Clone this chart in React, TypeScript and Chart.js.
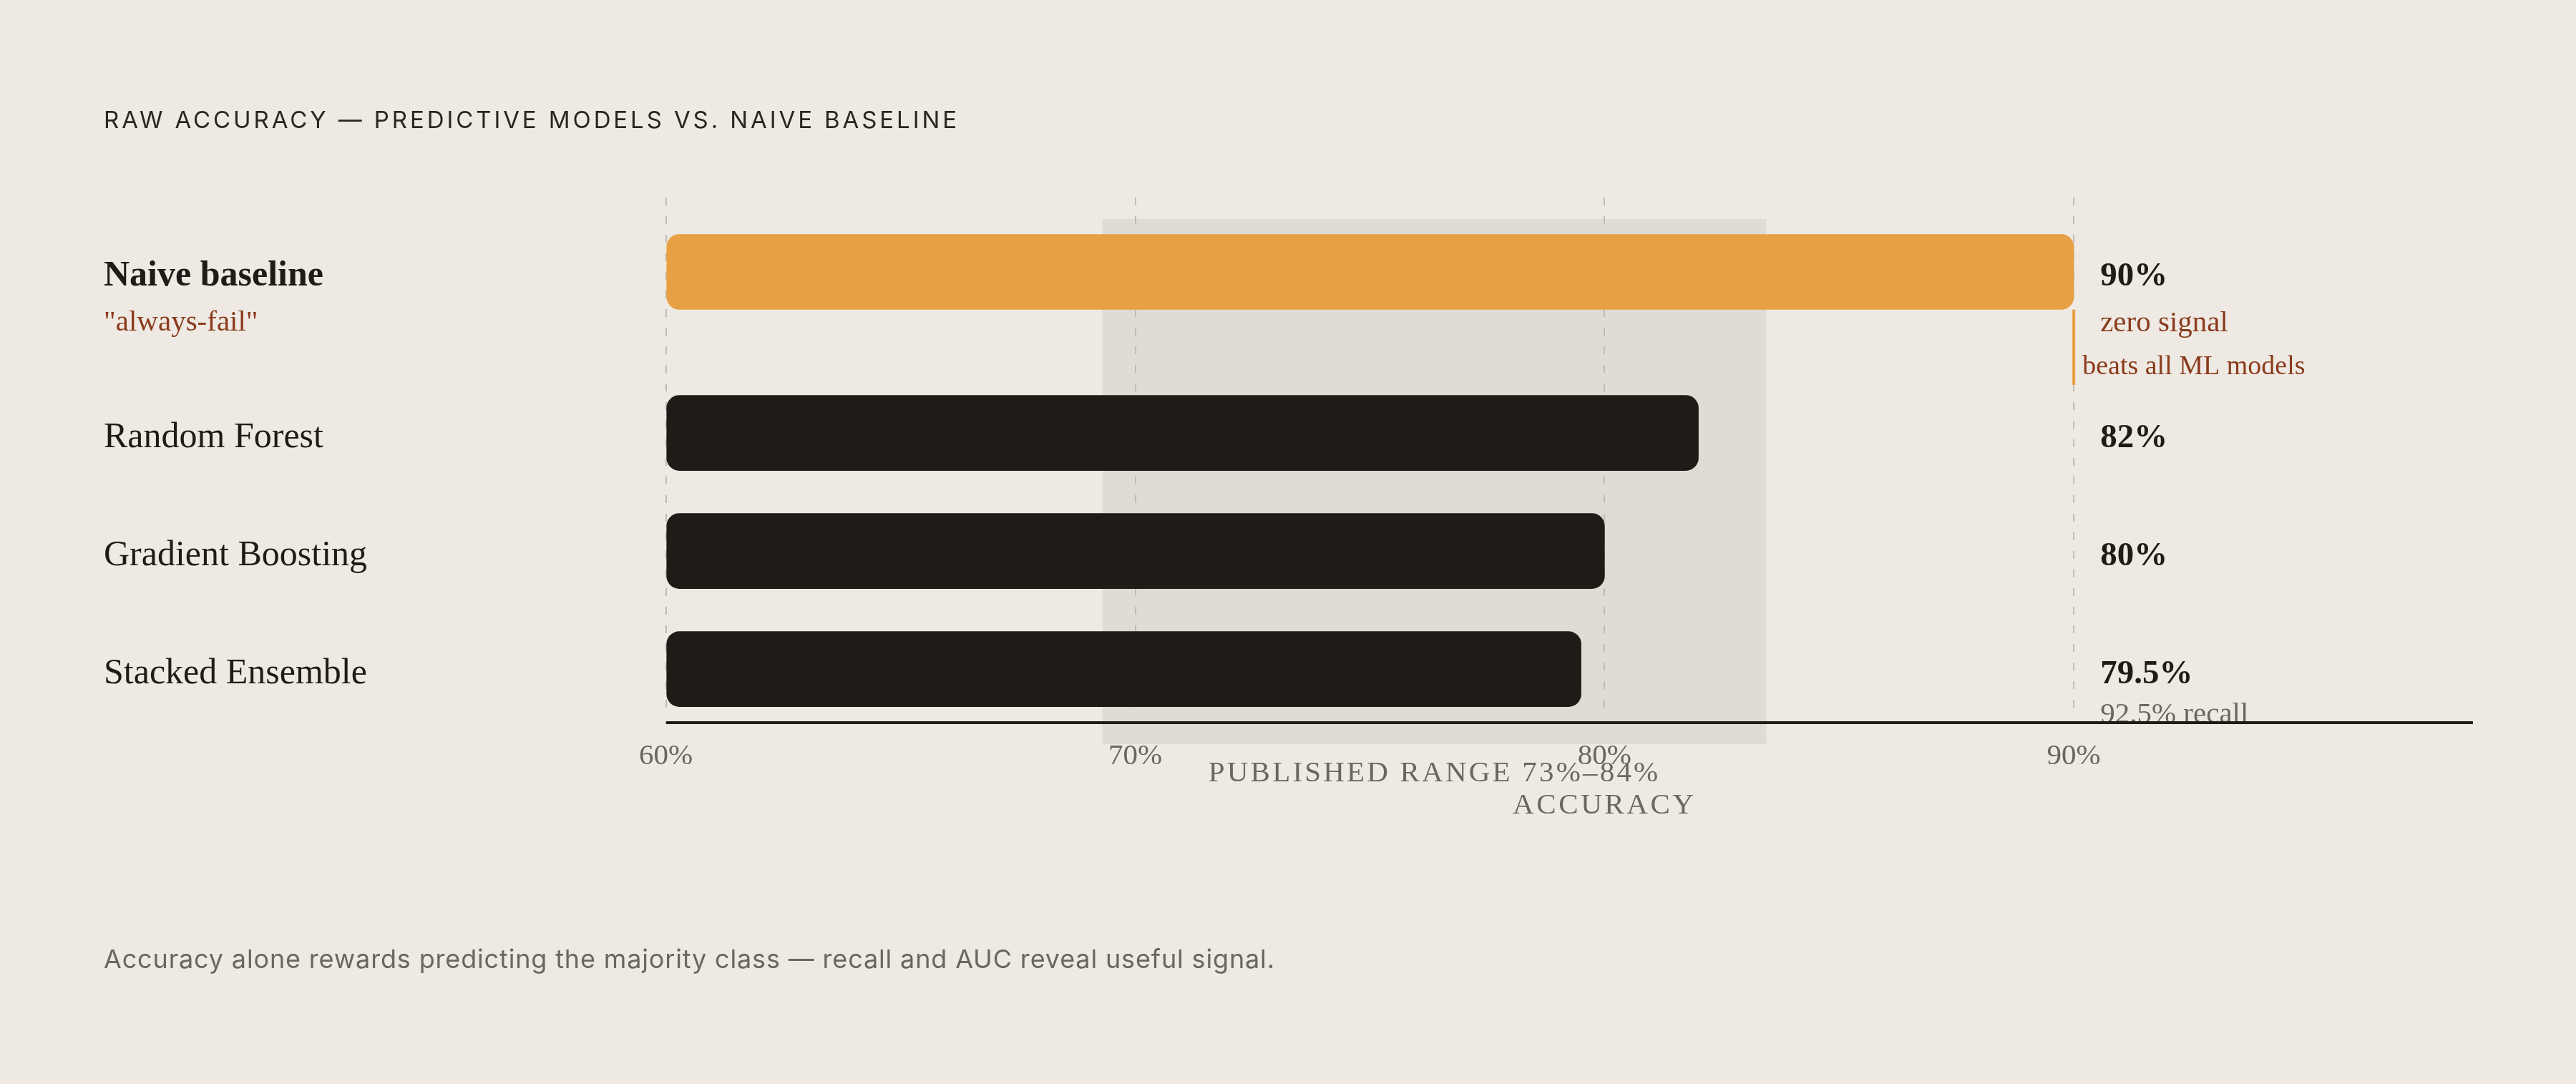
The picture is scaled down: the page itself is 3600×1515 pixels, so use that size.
import { useEffect, useRef } from "react";
import { Chart, registerables } from "chart.js";

Chart.register(...registerables);

// data
const models = ["Naive baseline", "Random Forest", "Gradient Boosting", "Stacked Ensemble"];
const accuracy = [90, 82, 80, 79.5];
const valueLabels = ["90%", "82%", "80%", "79.5%"];
const tickValues = [60, 70, 80, 90];
const publishedRangeLabel = "PUBLISHED RANGE 73%–84%";
// where the shaded band actually sits on the drawn axis
const publishedBand = [69.3, 83.45];
const baselineTag = '"always-fail"';
const baselineNotes = ["zero signal", "beats all ML models"];
const recallNote = "92.5% recall";

const TITLE = "RAW ACCURACY — PREDICTIVE MODELS VS. NAIVE BASELINE";
const FOOTER =
  "Accuracy alone rewards predicting the majority class — recall and AUC reveal useful signal.";

const BG = "#EEEAE3";
const BAND = "#E0DBD4";
const INK = "#1F1B16";
const ORANGE = "#E8A045";
const RUST = "#8B3A1C";
const MUTED = "#6B6760";
const GRID = "#BFBBB5";
const SERIF = '"Liberation Serif", "Times New Roman", serif';
const SANS = 'Inter, "Noto Sans", sans-serif';

// baseline row carries two note lines, so the rows after it are pushed down
const rowPos = models.map((_, i) => (i === 0 ? 0 : i + 0.364));

const text = (
  ctx: CanvasRenderingContext2D,
  str: string,
  x: number,
  y: number,
  font: string,
  color: string,
  align: CanvasTextAlign = "left",
  spacing = 0
) => {
  ctx.save();
  ctx.font = font;
  ctx.fillStyle = color;
  ctx.textAlign = align;
  ctx.textBaseline = "alphabetic";
  (ctx as any).letterSpacing = spacing + "px";
  ctx.fillText(str, x, y);
  ctx.restore();
};

const fitSpacing = (ctx: CanvasRenderingContext2D, str: string, font: string, width: number) => {
  ctx.save();
  ctx.font = font;
  (ctx as any).letterSpacing = "0px";
  const w = ctx.measureText(str).width;
  ctx.restore();
  return (width - w) / (str.length - 1);
};

const decor = {
  id: "decor",
  beforeDraw(chart: any) {
    const { ctx, chartArea } = chart;
    const x = chart.scales.x;
    const x0 = x.getPixelForValue(publishedBand[0]);
    const x1 = x.getPixelForValue(publishedBand[1]);
    ctx.save();
    ctx.fillStyle = BAND;
    ctx.fillRect(x0, chartArea.top + 30, x1 - x0, chartArea.bottom - chartArea.top + 16);
    ctx.restore();
  },
  afterDraw(chart: any) {
    const { ctx, chartArea } = chart;
    const x = chart.scales.x;
    const y = chart.scales.y;
    const labelX = 145;
    const valueX = x.getPixelForValue(Math.max(...accuracy)) + 37;

    // row labels and values
    models.forEach((m, i) => {
      const cy = y.getPixelForValue(rowPos[i]);
      const weight = i === 0 ? "bold " : "";
      text(ctx, m, labelX, cy + 19.5, `${weight}50px ${SERIF}`, INK);
      text(ctx, valueLabels[i], valueX, cy + 19.5, `bold 47px ${SERIF}`, INK);
    });

    // baseline annotations
    const by = y.getPixelForValue(rowPos[0]);
    const barEnd = x.getPixelForValue(accuracy[0]);
    text(ctx, baselineTag, labelX, by + 82, `41px ${SERIF}`, RUST);
    text(ctx, baselineNotes[0], valueX, by + 83, `41px ${SERIF}`, RUST);
    text(ctx, baselineNotes[1], barEnd + 12, by + 143, `38px ${SERIF}`, RUST);
    ctx.save();
    ctx.fillStyle = ORANGE;
    ctx.fillRect(barEnd - 2, by + 53, 4, 105);
    ctx.restore();

    // recall note under the last row
    const ly = y.getPixelForValue(rowPos[rowPos.length - 1]);
    text(ctx, recallNote, valueX, ly + 75, `41px ${SERIF}`, MUTED);

    // axis line
    const axisY = chartArea.bottom + 16;
    ctx.save();
    ctx.strokeStyle = INK;
    ctx.lineWidth = 4;
    ctx.beginPath();
    ctx.moveTo(chartArea.left, axisY);
    ctx.lineTo(chartArea.right - 98, axisY);
    ctx.stroke();
    ctx.restore();

    // band label and axis title
    const bandMid = (x.getPixelForValue(publishedBand[0]) + x.getPixelForValue(publishedBand[1])) / 2;
    text(ctx, publishedRangeLabel, bandMid, axisY + 82, `41px ${SERIF}`, MUTED, "center", 3.2);
    text(ctx, "ACCURACY", (x.left + x.right) / 2, axisY + 127, `41px ${SERIF}`, MUTED, "center", 3.6);

    // title and footer
    const titleFont = `33px ${SANS}`;
    text(ctx, TITLE, 145, 179, titleFont, "#2A2620", "left", fitSpacing(ctx, TITLE, titleFont, 1192));
    const footFont = `36px ${SANS}`;
    text(ctx, FOOTER, 145, 1353, footFont, MUTED, "left", fitSpacing(ctx, FOOTER, footFont, 1636));
  },
};

const App = () => {
  const canvasRef = useRef<HTMLCanvasElement>(null);

  useEffect(() => {
    document.body.style.margin = "0";
    if (!canvasRef.current) return;

    const chart = new Chart(canvasRef.current, {
      type: "bar",
      data: {
        datasets: [
          {
            data: models.map((_, i) => ({ x: accuracy[i], y: rowPos[i] })),
            backgroundColor: models.map((_, i) => (i === 0 ? ORANGE : INK)),
            base: tickValues[0],
            barThickness: 105,
            borderRadius: 18,
            borderSkipped: false,
          },
        ],
      },
      options: {
        indexAxis: "y",
        animation: false,
        responsive: true,
        maintainAspectRatio: false,
        devicePixelRatio: 1,
        events: [],
        layout: { padding: { left: 930.7, right: 46, top: 276, bottom: 321 } },
        plugins: {
          legend: { display: false },
          tooltip: { enabled: false },
          title: { display: false },
        },
        scales: {
          x: {
            type: "linear",
            position: "bottom",
            min: 60,
            max: 100,
            beginAtZero: false,
            afterBuildTicks: (scale: any) => {
              scale.ticks = tickValues.map((v) => ({ value: v }));
            },
            afterFit: (scale: any) => {
              scale.height = 200;
            },
            grid: { color: GRID, lineWidth: 2, drawTicks: false },
            border: { display: false, dash: [11, 15] },
            ticks: {
              padding: 39,
              color: MUTED,
              maxRotation: 0,
              autoSkip: false,
              font: { family: SERIF, size: 41 },
              callback: (v: any) => v + "%",
            },
          },
          y: {
            type: "linear",
            reverse: true,
            offset: false,
            min: -0.63,
            max: 3.721,
            display: false,
          },
        },
      },
      plugins: [decor],
    } as any);

    return () => {
      chart.destroy();
    };
  }, []);

  return (
    <div style={{ width: 3600, height: 1515, background: BG, position: "relative" }}>
      <canvas ref={canvasRef} />
    </div>
  );
};

export default App;
